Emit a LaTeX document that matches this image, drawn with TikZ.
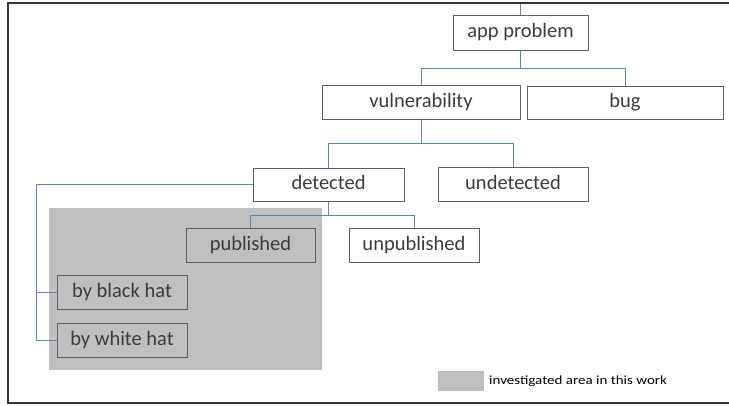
\documentclass[tikz,border=0pt]{standalone}
\usepackage{fontspec}
\usepackage{graphicx}
\setmainfont{Carlito}
\definecolor{linkblue}{RGB}{88,134,196}
\definecolor{boxline}{RGB}{95,95,95}
\definecolor{boxtext}{RGB}{60,60,60}
\definecolor{areagray}{RGB}{191,191,191}
\definecolor{framecol}{RGB}{55,55,55}
\tikzset{
  treebox/.style={draw=boxline, line width=1pt, fill=white, text=boxtext,
    inner sep=0pt, text height=14pt, text depth=4pt, align=center,
    font=\fontsize{20.5}{24}\selectfont},
  areabox/.style={treebox, fill=areagray},
  link/.style={draw=linkblue, line width=0.9pt},
}
\begin{document}
\begin{tikzpicture}[x=1pt, y=-1pt]
  \useasboundingbox (0,0) rectangle (729,405);
  % outer frame
  \draw[framecol, line width=1.8pt] (8,3) rectangle (740,403);

  % investigated area
  \fill[areagray] (49,208) rectangle (322,370);

  % tree nodes
  \node[treebox, minimum width=135pt, minimum height=35pt] (app)   at (520.5,32.5) {app problem};
  \node[treebox, minimum width=198pt, minimum height=34pt] (vul)   at (421,102)    {vulnerability};
  \node[treebox, minimum width=196pt, minimum height=33pt] (bug)   at (625,102.5)  {bug};
  \node[treebox, minimum width=151pt, minimum height=33pt] (det)   at (328.5,184.5){detected};
  \node[treebox, minimum width=150pt, minimum height=34pt] (undet) at (513,184)    {undetected};
  \node[areabox, minimum width=129pt, minimum height=34pt] (pub)   at (250.5,245)  {published};
  \node[treebox, minimum width=130pt, minimum height=34pt] (unpub) at (414,245)    {unpublished};
  \node[areabox, minimum width=130pt, minimum height=34pt] (black) at (122,292)    {by black hat};
  \node[areabox, minimum width=130pt, minimum height=34pt] (white) at (122,340)    {by white hat};

  % helper coordinates for the connectors
  \coordinate (top)   at (520.5,4);
  \coordinate (bus1)  at (0,68);
  \coordinate (bus2)  at (0,143);
  \coordinate (bus3)  at (0,215);
  \coordinate (trunk) at (36,0);

  % connectors
  \draw[link] (top) -- (app.north);
  \draw[link] (app.south) -- (app.south |- bus1) -| (vul.north);
  \draw[link] (app.south |- bus1) -| (bug.north);
  \draw[link] (vul.south) -- (vul.south |- bus2) -| (det.north);
  \draw[link] (vul.south |- bus2) -| (undet.north);
  \draw[link] (det.south) -- (det.south |- bus3) -| (pub.north);
  \draw[link] (det.south |- bus3) -| (unpub.north);
  \draw[link] (det.west) -| (white.west -| trunk) -- (white.west);
  \draw[link] (black.west -| trunk) -- (black.west);

  % legend
  \node[fill=areagray, minimum width=46pt, minimum height=20pt, inner sep=0pt] (key) at (461,381) {};
  \node[anchor=west, inner sep=0pt, text=black, font=\fontsize{12.5}{14}\selectfont] (keytext) at (489,381)
    {\scalebox{1.2}[1]{investigated area in this work}};
\end{tikzpicture}
\end{document}
